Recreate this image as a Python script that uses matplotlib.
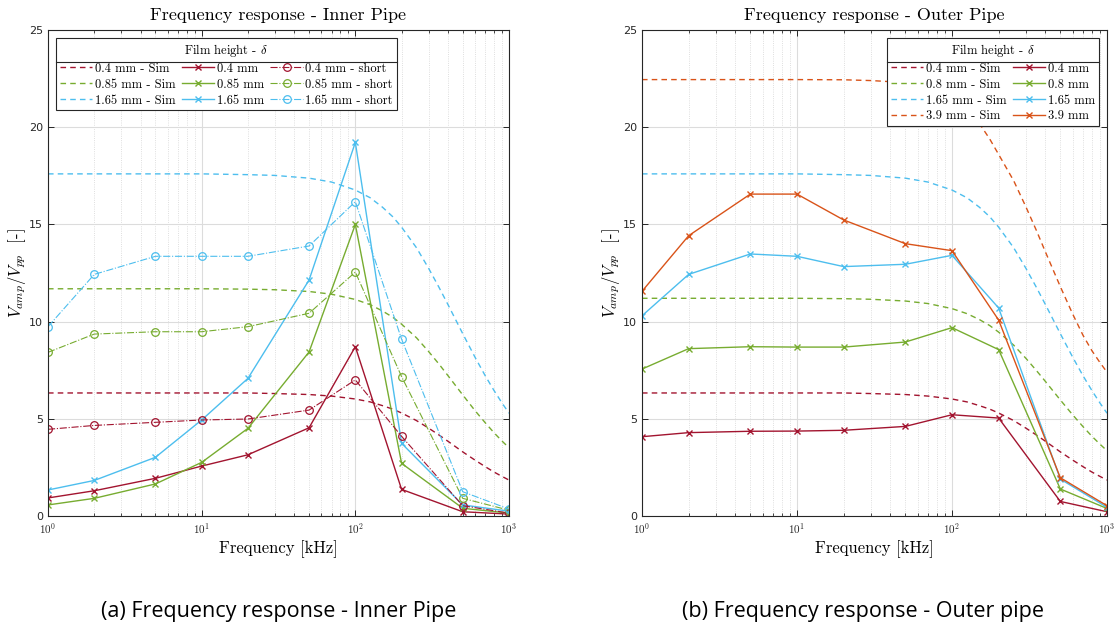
import matplotlib
matplotlib.use('Agg')

import matplotlib.pyplot as plt
import numpy as np
from matplotlib.lines import Line2D
from matplotlib.ticker import FixedLocator, FuncFormatter, NullFormatter

plt.rcParams['mathtext.fontset'] = 'cm'
plt.rcParams['axes.unicode_minus'] = False

# measurement frequencies [kHz]
freq = [1, 2, 5, 10, 20, 50, 100, 200, 500, 1000]

# simulation frequency grid [kHz]
freq_sim = [1, 2, 5, 10, 20, 30, 50, 70, 100, 125, 150, 175, 200, 250, 300, 350, 400, 500, 600, 700, 800, 900, 1000]

# simulated response per film height
sim_04 = [6.33, 6.33, 6.33, 6.33, 6.33, 6.30, 6.25, 6.17, 6.02, 5.87, 5.68, 5.50, 5.30, 4.91, 4.52, 4.17, 3.85, 3.30, 2.88, 2.54, 2.26, 2.04, 1.85]
sim_085 = [11.69, 11.69, 11.69, 11.69, 11.67, 11.64, 11.55, 11.41, 11.14, 10.87, 10.55, 10.23, 9.87, 9.17, 8.46, 7.82, 7.23, 6.23, 5.43, 4.80, 4.28, 3.86, 3.51]
sim_08 = [11.20, 11.20, 11.20, 11.20, 11.18, 11.15, 11.06, 10.93, 10.67, 10.41, 10.11, 9.80, 9.46, 8.79, 8.11, 7.49, 6.93, 5.97, 5.21, 4.60, 4.10, 3.70, 3.36]
sim_165 = [17.60, 17.60, 17.60, 17.60, 17.56, 17.52, 17.38, 17.18, 16.77, 16.37, 15.89, 15.40, 14.86, 13.80, 12.74, 11.77, 10.89, 9.38, 8.18, 7.22, 6.45, 5.82, 5.29]
sim_39 = [22.45, 22.45, 22.45, 22.45, 22.44, 22.40, 22.30, 22.10, 21.50, 20.90, 20.20, 19.40, 18.60, 17.25, 15.90, 14.70, 13.60, 11.80, 10.40, 9.30, 8.50, 7.90, 7.40]

# inner pipe, measured
inner_04 = [0.93, 1.30, 1.94, 2.57, 3.15, 4.54, 8.71, 1.37, 0.22, 0.10]
inner_085 = [0.57, 0.91, 1.65, 2.76, 4.51, 8.44, 15.00, 2.71, 0.40, 0.15]
inner_165 = [1.34, 1.83, 3.02, 4.94, 7.08, 12.14, 19.22, 3.74, 0.57, 0.25]
# inner pipe, short configuration
short_04 = [4.46, 4.66, 4.82, 4.94, 4.99, 5.45, 7.00, 4.10, 0.53, 0.15]
short_085 = [8.42, 9.36, 9.48, 9.48, 9.74, 10.43, 12.55, 7.17, 0.91, 0.30]
short_165 = [9.74, 12.43, 13.36, 13.36, 13.36, 13.89, 16.17, 9.10, 1.25, 0.36]

# outer pipe, measured
outer_04 = [4.08, 4.29, 4.36, 4.37, 4.41, 4.61, 5.21, 5.04, 0.75, 0.22]
outer_08 = [7.56, 8.61, 8.71, 8.69, 8.69, 8.95, 9.69, 8.56, 1.39, 0.39]
outer_165 = [10.30, 12.43, 13.48, 13.36, 12.83, 12.95, 13.41, 10.70, 1.90, 0.45]
outer_39 = [11.56, 14.42, 16.56, 16.56, 15.23, 14.01, 13.65, 10.08, 1.97, 0.53]

C_RED = '#A2142F'
C_GREEN = '#77AC30'
C_BLUE = '#4DBEEE'
C_ORANGE = '#D95319'

SERIF = 'cmr10'
DASH = (0, (4, 3))


def style_axes(ax, title):
    ax.set_xscale('log')
    ax.set_xlim(1, 1000)
    ax.set_ylim(0, 25)
    ax.set_yticks([0, 5, 10, 15, 20, 25])
    ax.xaxis.set_major_locator(FixedLocator([1, 10, 100, 1000]))
    ax.xaxis.set_major_formatter(FuncFormatter(
        lambda v, p: r'$\mathsf{10^{%d}}$' % round(np.log10(v))))
    ax.xaxis.set_minor_formatter(NullFormatter())
    ax.grid(True, which='major', color='#dcdcdc', linewidth=0.8, linestyle='-')
    ax.grid(True, which='minor', axis='x', color='#d4d4d4', linewidth=0.6, linestyle=':')
    ax.set_axisbelow(True)
    ax.tick_params(which='both', direction='in', top=True, right=True,
                   colors='#262626', labelsize=8, labelcolor='#262626')
    ax.tick_params(which='major', length=4, width=0.7)
    ax.tick_params(which='minor', length=2.5, width=0.6)
    for s in ax.spines.values():
        s.set_color('#262626')
        s.set_linewidth(0.8)
    ax.set_title(title, family=SERIF, fontsize=13, pad=7)
    ax.set_xlabel('Frequency [kHz]', family=SERIF, fontsize=12, labelpad=3)
    ax.set_ylabel(r'$V_{amp}/V_{pp}$  [-]', family=SERIF, fontsize=12, labelpad=1)


def sim_line(ax, y, color, label):
    return ax.plot(freq_sim, y, color=color, linestyle=DASH, linewidth=1.0, label=label)[0]


def meas_line(ax, y, color, label):
    return ax.plot(freq, y, color=color, linestyle='-', linewidth=1.0,
                   marker='x', markersize=4, markeredgewidth=1.0, label=label)[0]


def short_line(ax, y, color, label):
    return ax.plot(freq, y, color=color, linestyle='-.', linewidth=0.8,
                   marker='o', markersize=5.5, markerfacecolor='none',
                   markeredgewidth=0.9, label=label)[0]


def make_legend(ax, handles, ncol, loc):
    leg = ax.legend(handles=handles, ncol=ncol, loc=loc,
                    title=r'Film height - $\delta$',
                    prop={'family': SERIF, 'size': 9},
                    title_fontproperties={'family': SERIF, 'size': 9},
                    frameon=True, fancybox=False, framealpha=1.0,
                    edgecolor='#262626', borderaxespad=0.65,
                    handlelength=2.6, handletextpad=0.2, columnspacing=0.5,
                    labelspacing=0.3, borderpad=0.3)
    leg.get_frame().set_linewidth(0.8)
    return leg


fig = plt.figure(figsize=(11.14, 6.28), dpi=100)
ax1 = fig.add_axes([0.0431, 0.1783, 0.4138, 0.7739])
ax2 = fig.add_axes([0.5763, 0.1783, 0.4174, 0.7739])

# ---- inner pipe ----
h_sim = [sim_line(ax1, sim_04, C_RED, '0.4 mm - Sim'),
         sim_line(ax1, sim_085, C_GREEN, '0.85 mm - Sim'),
         sim_line(ax1, sim_165, C_BLUE, '1.65 mm - Sim')]
h_meas = [meas_line(ax1, inner_04, C_RED, '0.4 mm'),
          meas_line(ax1, inner_085, C_GREEN, '0.85 mm'),
          meas_line(ax1, inner_165, C_BLUE, '1.65 mm')]
h_short = [short_line(ax1, short_04, C_RED, '0.4 mm - short'),
           short_line(ax1, short_085, C_GREEN, '0.85 mm - short'),
           short_line(ax1, short_165, C_BLUE, '1.65 mm - short')]
style_axes(ax1, 'Frequency response - Inner Pipe')
leg1 = make_legend(ax1, h_sim + h_meas + h_short, 3, 'upper left')

# ---- outer pipe ----
g_sim = [sim_line(ax2, sim_04, C_RED, '0.4 mm - Sim'),
         sim_line(ax2, sim_08, C_GREEN, '0.8 mm - Sim'),
         sim_line(ax2, sim_165, C_BLUE, '1.65 mm - Sim'),
         sim_line(ax2, sim_39, C_ORANGE, '3.9 mm - Sim')]
g_meas = [meas_line(ax2, outer_04, C_RED, '0.4 mm'),
          meas_line(ax2, outer_08, C_GREEN, '0.8 mm'),
          meas_line(ax2, outer_165, C_BLUE, '1.65 mm'),
          meas_line(ax2, outer_39, C_ORANGE, '3.9 mm')]
style_axes(ax2, 'Frequency response - Outer Pipe')
leg2 = make_legend(ax2, g_sim + g_meas, 2, 'upper right')

# separator line between legend title and entries
fig.canvas.draw()
renderer = fig.canvas.get_renderer()
inv = fig.transFigure.inverted()
for leg in (leg1, leg2):
    fb = leg.get_frame().get_window_extent(renderer)
    tb = leg.get_title().get_window_extent(renderer)
    y = tb.y0 - 3
    (x0, yf), (x1, _) = inv.transform([(fb.x0, y), (fb.x1, y)])
    fig.add_artist(Line2D([x0, x1], [yf, yf], color='#262626', linewidth=0.8, zorder=10))

fig.text(0.2505, 0.018, '(a) Frequency response - Inner Pipe',
         ha='center', va='baseline', family='Open Sans', fontsize=15.5)
fig.text(0.775, 0.018, '(b) Frequency response - Outer pipe',
         ha='center', va='baseline', family='Open Sans', fontsize=15.5)

fig.savefig('out.png', dpi=100)
plt.close(fig)
